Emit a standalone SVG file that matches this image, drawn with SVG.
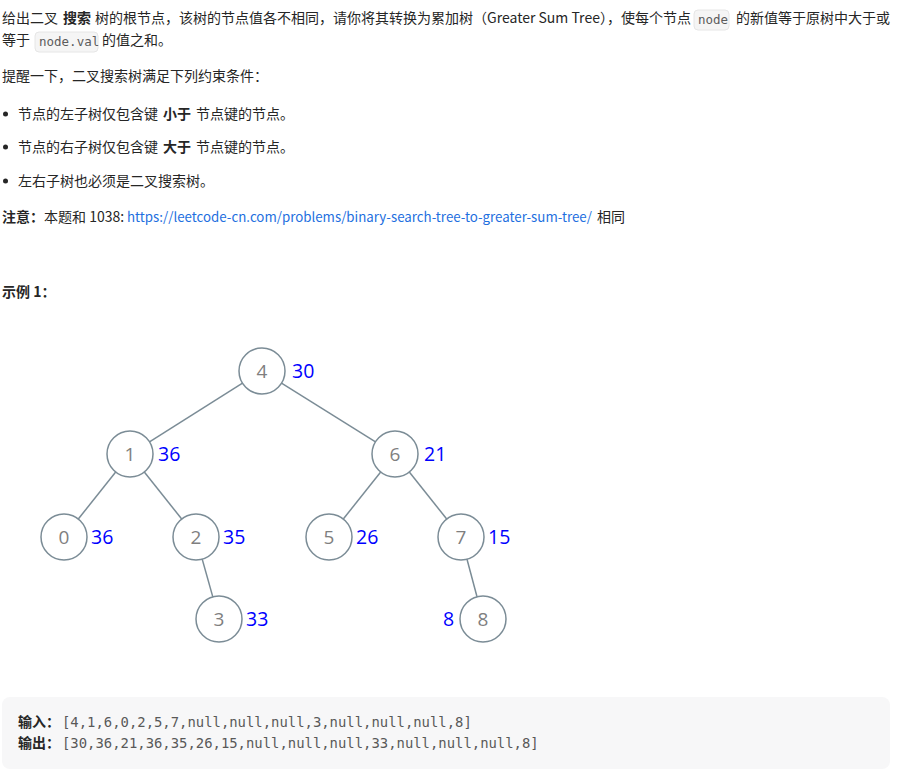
<svg xmlns="http://www.w3.org/2000/svg" width="908" height="784" viewBox="0 0 908 784">
<style>
.t{font-family:"Segoe UI","Noto Sans CJK SC",sans-serif;font-size:14px;fill:#262626}
.b{font-weight:bold}
.code{font-family:"DejaVu Sans Mono","Liberation Mono",monospace;font-size:12.5px;fill:#5c5c5c}
.cbox{fill:#f5f5f5;stroke:#e6e6e6;stroke-width:1}
.mono{font-family:"DejaVu Sans Mono","Liberation Mono",monospace;font-size:13.9px;fill:#595959}
.link{fill:#1e6fe0;font-size:13.3px}
.node circle{fill:#fff;stroke:#7b8c96;stroke-width:1.5}
.node text.v{font-family:"Open Sans","Noto Sans",sans-serif;font-size:19px;fill:#7f7f7f;text-anchor:middle}
.lbl{font-family:"Open Sans","Noto Sans",sans-serif;font-size:19.5px;fill:#0000ff}
.edges line{stroke:#7b8c96;stroke-width:1.5}
</style>
<rect width="908" height="784" fill="#fff"/>
<g id="text">
<text class="t" y="23"><tspan x="2">给出二叉</tspan><tspan x="63" class="b">搜索</tspan><tspan x="95">树的根节点，该树的节点值各不相同，请你将其转换为累加树（Greater Sum Tree），使每个节点</tspan></text>
<rect class="cbox" x="694" y="10" width="35" height="20" rx="4"/>
<text class="code" x="698" y="24">node</text>
<text class="t" x="736" y="23">的新值等于原树中大于或</text>
<text class="t" x="2" y="45">等于</text>
<rect class="cbox" x="35" y="32" width="63" height="20" rx="4"/>
<text class="code" x="39" y="46">node.val</text>
<text class="t" x="102" y="45">的值之和。</text>
<text class="t" x="2" y="81">提醒一下，二叉搜索树满足下列约束条件：</text>
<circle cx="5.5" cy="114" r="2.5" fill="#262626"/>
<text class="t" y="119"><tspan x="18">节点的左子树仅包含键</tspan><tspan x="163" class="b">小于</tspan><tspan x="196">节点键的节点。</tspan></text>
<circle cx="5.5" cy="147" r="2.5" fill="#262626"/>
<text class="t" y="152"><tspan x="18">节点的右子树仅包含键</tspan><tspan x="163" class="b">大于</tspan><tspan x="196">节点键的节点。</tspan></text>
<circle cx="5.5" cy="181" r="2.5" fill="#262626"/>
<text class="t" x="18" y="186">左右子树也必须是二叉搜索树。</text>
<text class="t" y="222"><tspan x="2" class="b">注意：</tspan><tspan x="44">本题和 1038:</tspan></text>
<text class="t link" x="127" y="222">https://leetcode-cn.com/problems/binary-search-tree-to-greater-sum-tree/</text>
<text class="t" x="597" y="222">相同</text>
<text class="t b" x="2" y="297">示例 1：</text>
</g>
<g id="edges" class="edges">
<line x1="242.5" y1="383.2" x2="149.5" y2="441.8"/>
<line x1="281.5" y1="383.2" x2="375.5" y2="441.8"/>
<line x1="115.7" y1="472" x2="78.3" y2="519"/>
<line x1="144.3" y1="472" x2="181.7" y2="519"/>
<line x1="202.2" y1="559.1" x2="212.8" y2="596.9"/>
<line x1="380.7" y1="472" x2="343.3" y2="519"/>
<line x1="409.3" y1="472" x2="446.7" y2="519"/>
<line x1="467" y1="559.2" x2="477" y2="596.8"/>
</g>
<g id="n4" class="node"><circle cx="262" cy="371" r="23"/><text class="v" x="262" y="378">4</text><text class="lbl" x="292" y="378">30</text></g>
<g id="n1" class="node"><circle cx="130" cy="454" r="23"/><text class="v" x="130" y="461">1</text><text class="lbl" x="158" y="461">36</text></g>
<g id="n6" class="node"><circle cx="395" cy="454" r="23"/><text class="v" x="395" y="461">6</text><text class="lbl" x="424" y="461">21</text></g>
<g id="n0" class="node"><circle cx="64" cy="537" r="23"/><text class="v" x="64" y="544">0</text><text class="lbl" x="91" y="544">36</text></g>
<g id="n2" class="node"><circle cx="196" cy="537" r="23"/><text class="v" x="196" y="544">2</text><text class="lbl" x="223" y="544">35</text></g>
<g id="n5" class="node"><circle cx="329" cy="537" r="23"/><text class="v" x="329" y="544">5</text><text class="lbl" x="356" y="544">26</text></g>
<g id="n7" class="node"><circle cx="461" cy="537" r="23"/><text class="v" x="461" y="544">7</text><text class="lbl" x="488" y="544">15</text></g>
<g id="n3" class="node"><circle cx="219" cy="619" r="23"/><text class="v" x="219" y="626">3</text><text class="lbl" x="246" y="626">33</text></g>
<g id="n8" class="node"><circle cx="483" cy="619" r="23"/><text class="v" x="483" y="626">8</text><text class="lbl" x="443" y="626">8</text></g>
<g id="example">
<rect x="2" y="697" width="888" height="72" rx="8" fill="#f7f7f8"/>
<text class="t b" x="18" y="727">输入：</text>
<text class="mono" x="62" y="727">[4,1,6,0,2,5,7,null,null,null,3,null,null,null,8]</text>
<text class="t b" x="18" y="748">输出：</text>
<text class="mono" x="62" y="748">[30,36,21,36,35,26,15,null,null,null,33,null,null,null,8]</text>
</g>
</svg>
